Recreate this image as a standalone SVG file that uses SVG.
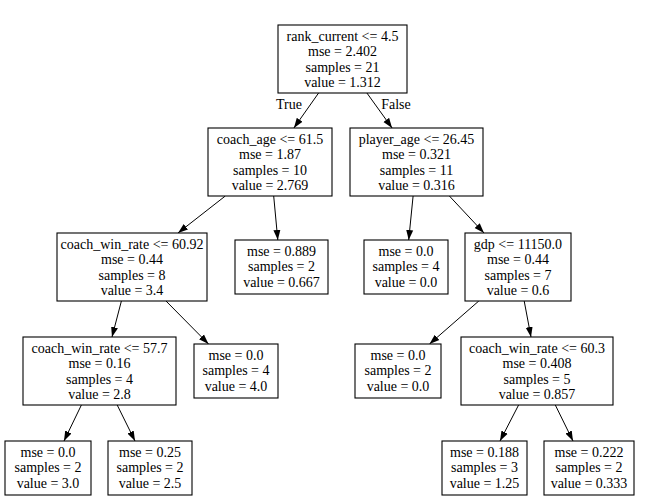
<svg xmlns="http://www.w3.org/2000/svg" width="650" height="500" viewBox="0 0 650 500">
<style>
  .box { fill: #ffffff; stroke: #000000; stroke-width: 1.1; }
  text { font-family: "Liberation Serif", "Times New Roman", serif; font-size: 14px; fill: #000000; text-anchor: middle; }
  .edge { stroke: #000000; stroke-width: 1; fill: none; marker-end: url(#arrow); }
</style>
<defs>
  <marker id="arrow" markerUnits="userSpaceOnUse" markerWidth="10" markerHeight="8" refX="10" refY="4" orient="auto">
    <path d="M0,0.5 L10,4 L0,7.5 z" fill="#000000"/>
  </marker>
</defs>
<rect width="650" height="500" fill="#ffffff"/>
<g id="connectors">
  <line class="edge" x1="318.6" y1="93" x2="293.9" y2="128"/>
  <line class="edge" x1="366.9" y1="93" x2="392.1" y2="128"/>
  <line class="edge" x1="225.3" y1="196" x2="178" y2="233"/>
  <line class="edge" x1="273.7" y1="196" x2="277.8" y2="240"/>
  <line class="edge" x1="413.1" y1="196" x2="408.7" y2="240"/>
  <line class="edge" x1="449.4" y1="196" x2="484" y2="233"/>
  <line class="edge" x1="121.4" y1="301" x2="112" y2="337"/>
  <line class="edge" x1="166" y1="301" x2="208.5" y2="344"/>
  <line class="edge" x1="478.8" y1="301" x2="429.5" y2="344"/>
  <line class="edge" x1="524.2" y1="301" x2="531" y2="337"/>
  <line class="edge" x1="81.4" y1="405" x2="64" y2="441"/>
  <line class="edge" x1="117.2" y1="405" x2="135" y2="441"/>
  <line class="edge" x1="518.6" y1="405" x2="500" y2="441"/>
  <line class="edge" x1="555.3" y1="405" x2="573" y2="441"/>
  <text x="289" y="109">True</text>
  <text x="396" y="109">False</text>
</g>
<g id="node0">
  <rect class="box" x="278" y="25" width="129" height="68"/>
  <text x="342.5" y="40.5">rank_current &lt;= 4.5</text>
  <text x="342.5" y="56">mse = 2.402</text>
  <text x="342.5" y="71.5">samples = 21</text>
  <text x="342.5" y="87">value = 1.312</text>
</g>
<g id="node1">
  <rect class="box" x="208" y="128" width="124" height="68"/>
  <text x="270" y="143.5">coach_age &lt;= 61.5</text>
  <text x="270" y="159">mse = 1.87</text>
  <text x="270" y="174.5">samples = 10</text>
  <text x="270" y="190">value = 2.769</text>
</g>
<g id="node2">
  <rect class="box" x="350" y="128" width="133" height="68"/>
  <text x="416.5" y="143.5">player_age &lt;= 26.45</text>
  <text x="416.5" y="159">mse = 0.321</text>
  <text x="416.5" y="174.5">samples = 11</text>
  <text x="416.5" y="190">value = 0.316</text>
</g>
<g id="node3">
  <rect class="box" x="57" y="233" width="150" height="68"/>
  <text x="132" y="248.5">coach_win_rate &lt;= 60.92</text>
  <text x="132" y="264">mse = 0.44</text>
  <text x="132" y="279.5">samples = 8</text>
  <text x="132" y="295">value = 3.4</text>
</g>
<g id="node4">
  <rect class="box" x="235" y="240" width="93" height="54"/>
  <text x="281.5" y="255.5">mse = 0.889</text>
  <text x="281.5" y="271">samples = 2</text>
  <text x="281.5" y="286.5">value = 0.667</text>
</g>
<g id="node5">
  <rect class="box" x="364" y="240" width="84" height="54"/>
  <text x="406" y="255.5">mse = 0.0</text>
  <text x="406" y="271">samples = 4</text>
  <text x="406" y="286.5">value = 0.0</text>
</g>
<g id="node6">
  <rect class="box" x="465" y="233" width="106" height="68"/>
  <text x="518" y="248.5">gdp &lt;= 11150.0</text>
  <text x="518" y="264">mse = 0.44</text>
  <text x="518" y="279.5">samples = 7</text>
  <text x="518" y="295">value = 0.6</text>
</g>
<g id="node7">
  <rect class="box" x="23" y="337" width="153" height="68"/>
  <text x="99.5" y="352.5">coach_win_rate &lt;= 57.7</text>
  <text x="99.5" y="368">mse = 0.16</text>
  <text x="99.5" y="383.5">samples = 4</text>
  <text x="99.5" y="399">value = 2.8</text>
</g>
<g id="node8">
  <rect class="box" x="194" y="344" width="84" height="54"/>
  <text x="236" y="359.5">mse = 0.0</text>
  <text x="236" y="375">samples = 4</text>
  <text x="236" y="390.5">value = 4.0</text>
</g>
<g id="node9">
  <rect class="box" x="355" y="344" width="86" height="54"/>
  <text x="398" y="359.5">mse = 0.0</text>
  <text x="398" y="375">samples = 2</text>
  <text x="398" y="390.5">value = 0.0</text>
</g>
<g id="node10">
  <rect class="box" x="461" y="337" width="152" height="68"/>
  <text x="537" y="352.5">coach_win_rate &lt;= 60.3</text>
  <text x="537" y="368">mse = 0.408</text>
  <text x="537" y="383.5">samples = 5</text>
  <text x="537" y="399">value = 0.857</text>
</g>
<g id="node11">
  <rect class="box" x="5" y="441" width="86" height="54"/>
  <text x="48" y="456.5">mse = 0.0</text>
  <text x="48" y="472">samples = 2</text>
  <text x="48" y="487.5">value = 3.0</text>
</g>
<g id="node12">
  <rect class="box" x="108" y="441" width="84" height="54"/>
  <text x="150" y="456.5">mse = 0.25</text>
  <text x="150" y="472">samples = 2</text>
  <text x="150" y="487.5">value = 2.5</text>
</g>
<g id="node13">
  <rect class="box" x="442" y="441" width="85" height="54"/>
  <text x="484.5" y="456.5">mse = 0.188</text>
  <text x="484.5" y="472">samples = 3</text>
  <text x="484.5" y="487.5">value = 1.25</text>
</g>
<g id="node14">
  <rect class="box" x="544" y="441" width="90" height="54"/>
  <text x="589" y="456.5">mse = 0.222</text>
  <text x="589" y="472">samples = 2</text>
  <text x="589" y="487.5">value = 0.333</text>
</g>
</svg>
